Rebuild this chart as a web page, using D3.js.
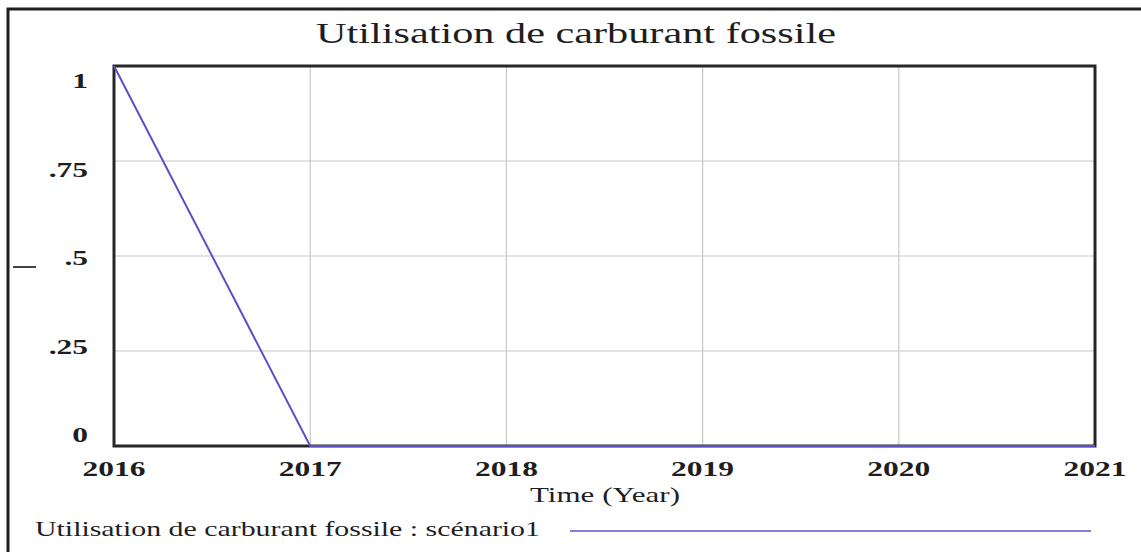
<!DOCTYPE html>
<html><head><meta charset="utf-8">
<script src="https://cdn.jsdelivr.net/npm/d3@7"></script>
<style>body{margin:0;background:#fff}svg{display:block}</style>
</head><body>
<svg id="c" width="1141" height="552"></svg>
<script>
const title = "Utilisation de carburant fossile";
const xLabel = "Time (Year)";
const legendLabel = "Utilisation de carburant fossile : scénario1";
const years = [2016, 2017, 2018, 2019, 2020, 2021];
const values = [1, 0, 0, 0, 0, 0];
const yTicks = [0, 0.25, 0.5, 0.75, 1];
const yTickLabels = ["0", ".25", ".5", ".75", "1"];
const xTickLabels = ["2016", "2017", "2018", "2019", "2020", "2021"];

const svg = d3.select("#c");
const font = "'Liberation Serif','Times New Roman',serif";
const ink = "#1e1e1e";
const lineColor = "#5b50c8";

const M = {l:114, r:1095, t:66, b:446};
const x = d3.scaleLinear().domain([2016, 2021]).range([M.l, M.r]);
const y = d3.scaleLinear().domain([0, 1]).range([M.b, M.t]);
const yLab = d3.scaleLinear().domain([0, 1]).range([442, 88]);

function stretch(sel, k) {
  sel.each(function() {
    const w = this.getComputedTextLength();
    d3.select(this).attr("textLength", w * k).attr("lengthAdjust", "spacingAndGlyphs");
  });
}

// outer frame
svg.append("path").attr("d", `M8,560 L8,9 L1150,9`).attr("fill","none")
  .attr("stroke", ink).attr("stroke-width", 3);

// grid
svg.append("g").selectAll("line").data(years.slice(1, -1)).join("line")
  .attr("x1", d=>x(d)).attr("x2", d=>x(d)).attr("y1", M.t).attr("y2", M.b)
  .attr("stroke", "#c8c8c8").attr("stroke-width", 1.2);
svg.append("g").selectAll("line").data(yTicks.slice(1, -1)).join("line")
  .attr("y1", d=>y(d)).attr("y2", d=>y(d)).attr("x1", M.l).attr("x2", M.r)
  .attr("stroke", "#c8c8c8").attr("stroke-width", 1.2);

// plot frame
svg.append("rect").attr("x", M.l).attr("y", M.t).attr("width", M.r - M.l).attr("height", M.b - M.t)
  .attr("fill", "none").attr("stroke", "#262626").attr("stroke-width", 3);

// series
const line = d3.line().x((d,i)=>x(years[i])).y(d=>y(d));
svg.append("path").datum(values).attr("d", line).attr("fill","none")
  .attr("stroke", lineColor).attr("stroke-width", 2);

// title
svg.append("text").attr("x", 576).attr("y", 43).attr("text-anchor","middle")
  .attr("font-family", font).attr("font-size", 30).attr("fill", ink)
  .attr("textLength", 520).attr("lengthAdjust", "spacingAndGlyphs").text(title);

// y tick labels
svg.append("g").selectAll("text").data(yTicks).join("text")
  .attr("x", 88).attr("y", d=>yLab(d)).attr("text-anchor","end")
  .attr("font-family", font).attr("font-size", 21).attr("font-weight","bold").attr("fill", ink)
  .text((d,i)=>yTickLabels[i]).call(stretch, 1.5);

// y axis unit mark
svg.append("line").attr("x1", 13).attr("x2", 36).attr("y1", 267).attr("y2", 267)
  .attr("stroke", "#444").attr("stroke-width", 2);

// x tick labels
svg.append("g").selectAll("text").data(years).join("text")
  .attr("x", d=>x(d)).attr("y", 476).attr("text-anchor","middle")
  .attr("font-family", font).attr("font-size", 21).attr("font-weight","bold").attr("fill", ink)
  .text((d,i)=>xTickLabels[i]).call(stretch, 1.5);

svg.append("text").attr("x", 605).attr("y", 502).attr("text-anchor","middle")
  .attr("font-family", font).attr("font-size", 21).attr("fill", ink)
  .attr("textLength", 150).attr("lengthAdjust", "spacingAndGlyphs").text(xLabel);

// legend
svg.append("text").attr("x", 35).attr("y", 536)
  .attr("font-family", font).attr("font-size", 21).attr("fill", ink)
  .attr("textLength", 505).attr("lengthAdjust", "spacingAndGlyphs").text(legendLabel);
svg.append("line").attr("x1", 570).attr("x2", 1091).attr("y1", 531).attr("y2", 531)
  .attr("stroke", lineColor).attr("stroke-width", 1.5);
</script>
</body></html>
